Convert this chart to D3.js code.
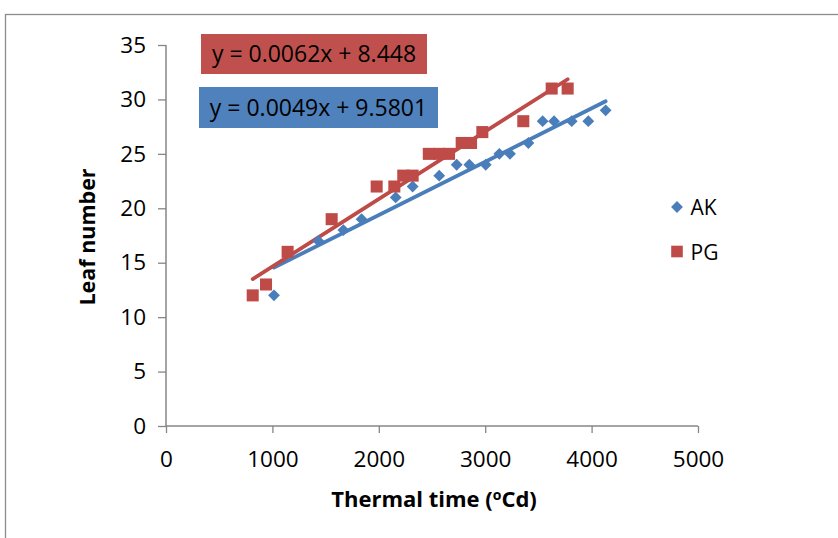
<!DOCTYPE html>
<html>
<head>
<meta charset="utf-8">
<script src="https://cdn.jsdelivr.net/npm/d3@7"></script>
<style>
  body { margin: 0; background: #fff; }
  svg text { font-family: "Open Sans", "Liberation Sans", sans-serif; }
</style>
</head>
<body>
<svg id="viz"></svg>
<script>
// data
const akX = [1015, 1432, 1667, 1838, 2159, 2318, 2568, 2732, 2851, 3005, 3133, 3233, 3406, 3540, 3647, 3813, 3969, 4132];
const akY = [12, 17, 18, 19, 21, 22, 23, 24, 24, 24, 25, 25, 26, 28, 28, 28, 28, 29];
const pgX = [815, 940, 1143, 1557, 1980, 2146, 2230, 2318, 2470, 2570, 2660, 2779, 2867, 2973, 3358, 3625, 3775];
const pgY = [12, 13, 16, 19, 22, 22, 23, 23, 25, 25, 25, 26, 26, 27, 28, 31, 31];
const seriesNames = ['AK', 'PG'];
const trendSlope = [0.0049, 0.0062];
const trendIntercept = [9.5801, 8.448];
const equations = ['y = 0.0049x + 9.5801', 'y = 0.0062x + 8.448'];
const xTicks = [0, 1000, 2000, 3000, 4000, 5000];
const yTicks = [0, 5, 10, 15, 20, 25, 30, 35];

var width = 838;
var height = 538;
var margin = { top: 45, right: 140, bottom: 112, left: 166 };
var drawWidth = 698 - margin.left;
var drawHeight = 426 - margin.top;

var colors = ['#4a7ebb', '#be4b48'];
var boxColors = ['#4f81bd', '#c0504d'];
var axisColor = '#868686';

var svg = d3.select('#viz')
            .attr('width', width)
            .attr('height', height);

// outer chart frame (runs off the page on the right and bottom)
svg.append('rect')
   .attr('x', 5.5).attr('y', 14.5)
   .attr('width', 900).attr('height', 600)
   .attr('fill', 'none')
   .attr('stroke', '#8c8c8c')
   .attr('stroke-width', 1.3);

var g = svg.append('g')
           .attr('transform', `translate(${margin.left}, ${margin.top})`);

var xScale = d3.scaleLinear().domain([0, 5000]).range([0, drawWidth]);
var yScale = d3.scaleLinear().domain([0, 35]).range([drawHeight, 0]);

var xAxis = d3.axisBottom(xScale).tickValues(xTicks).tickSize(7).tickPadding(18).tickFormat(d3.format('d'));
var yAxis = d3.axisLeft(yScale).tickValues(yTicks).tickSize(8).tickPadding(12);

var xAxisG = g.append('g')
              .attr('transform', `translate(0, ${drawHeight})`)
              .call(xAxis);
var yAxisG = g.append('g').call(yAxis);

[xAxisG, yAxisG].forEach(function(ax){
    ax.select('.domain').attr('stroke', axisColor).attr('stroke-width', 1.5);
    ax.selectAll('.tick line').attr('stroke', axisColor).attr('stroke-width', 1.3);
    ax.selectAll('.tick text')
      .attr('fill', '#000')
      .style('font-size', '22.5px')
      .style('font-family', '"Open Sans", sans-serif');
});
// domain without end-caps
xAxisG.select('.domain').attr('d', `M0,0H${drawWidth}`);
yAxisG.select('.domain').attr('d', `M0,0V${drawHeight}`);

// trend lines over each series' x range
var xs = [akX, pgX];
xs.forEach(function(arr, i){
    var ext = d3.extent(arr);
    g.append('line')
     .attr('x1', xScale(ext[0]))
     .attr('y1', yScale(trendSlope[i] * ext[0] + trendIntercept[i]))
     .attr('x2', xScale(ext[1]))
     .attr('y2', yScale(trendSlope[i] * ext[1] + trendIntercept[i]))
     .attr('stroke', colors[i])
     .attr('stroke-width', 3.8)
     .attr('stroke-linecap', 'round');
});

// markers
var akData = akX.map((x, i) => ({ x: x, y: akY[i] }));
var pgData = pgX.map((x, i) => ({ x: x, y: pgY[i] }));

var diamond = d3.symbol().type(d3.symbolSquare).size(70);
var square = d3.symbol().type(d3.symbolSquare).size(145);

g.selectAll('.ak')
 .data(akData)
 .enter()
 .append('path')
 .attr('class', 'ak')
 .attr('d', diamond)
 .attr('transform', (d) => `translate(${xScale(d.x)}, ${yScale(d.y)}) rotate(45)`)
 .attr('fill', colors[0]);

g.selectAll('.pg')
 .data(pgData)
 .enter()
 .append('path')
 .attr('class', 'pg')
 .attr('d', square)
 .attr('transform', (d) => `translate(${xScale(d.x)}, ${yScale(d.y)})`)
 .attr('fill', colors[1]);

// equation labels
var eqBoxes = [
    { x: 199, y: 87, w: 239, h: 41 },
    { x: 201, y: 34, w: 226, h: 40 }
];
eqBoxes.forEach(function(b, i){
    svg.append('rect')
       .attr('x', b.x).attr('y', b.y)
       .attr('width', b.w).attr('height', b.h)
       .attr('fill', boxColors[i]);
    svg.append('text')
       .attr('x', b.x + b.w / 2)
       .attr('y', b.y + b.h / 2 + 8)
       .attr('text-anchor', 'middle')
       .style('font-size', '23px')
       .attr('fill', '#000')
       .text(equations[i]);
});

// legend
var legend = svg.append('g').attr('transform', 'translate(677, 207)');
seriesNames.forEach(function(name, i){
    var row = legend.append('g').attr('transform', `translate(0, ${i * 44.5})`);
    row.append('path')
       .attr('d', i === 0 ? diamond : d3.symbol().type(d3.symbolSquare).size(135))
       .attr('transform', i === 0 ? 'rotate(45)' : null)
       .attr('fill', colors[i]);
    row.append('text')
       .attr('x', 13.5)
       .attr('y', 8)
       .style('font-size', '21px')
       .text(name);
});

// axis titles
var xTitle = svg.append('text')
   .attr('x', 434)
   .attr('y', 507)
   .attr('text-anchor', 'middle')
   .style('font-size', '22px')
   .style('font-weight', 'bold');
xTitle.append('tspan').text('Thermal time (');
xTitle.append('tspan').attr('dy', -7).style('font-size', '14px').text('o');
xTitle.append('tspan').attr('dy', 7).text('Cd)');

svg.append('text')
   .attr('transform', 'translate(95, 237) rotate(-90)')
   .attr('text-anchor', 'middle')
   .style('font-size', '21.5px')
   .style('font-weight', 'bold')
   .text('Leaf number');
</script>
</body>
</html>
